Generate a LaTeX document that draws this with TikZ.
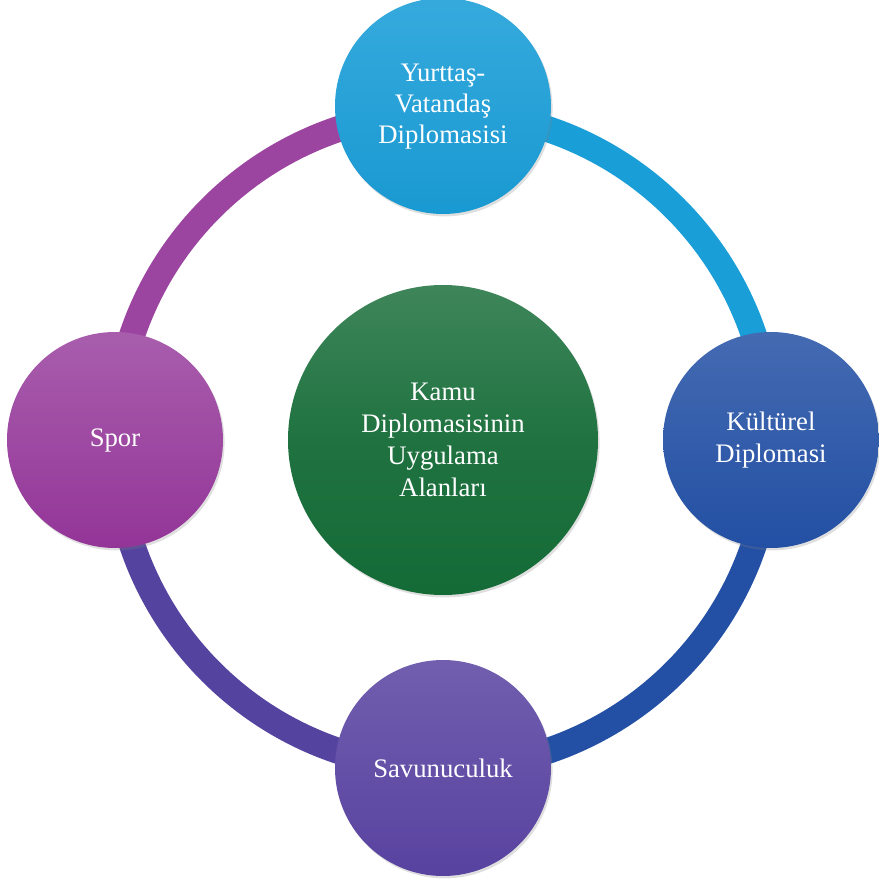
\documentclass[tikz,border=0pt]{standalone}
\usepackage{fontspec}
\setmainfont{Liberation Serif}
\usepackage{tikz}
\usepackage{xcolor}
\usetikzlibrary{
    shadows,
    positioning
}
\definecolor{yurtC}{HTML}{1A9ED8}
\definecolor{kultC}{HTML}{2350A4}
\definecolor{savC}{HTML}{5842A0}
\definecolor{sporC}{HTML}{933598}
\definecolor{kamuC}{HTML}{146B36}

\begin{document}
\begin{tikzpicture}[
        area/.style={circle, minimum size=5.4cm, inner sep=0pt, text=white,
            align=center, font=\fontsize{19}{22.8}\selectfont,
            drop shadow={opacity=0.25, shadow xshift=0.04cm, shadow yshift=-0.06cm}},
        ring/.style={line width=0.65cm}
    ]
                        \useasboundingbox (-11.075, -11.025) rectangle (10.9, 11.0);

                        % ring pieces first, circles go on top
                        \coordinate (ty) at (0, 8.2);
                        \coordinate (tk) at (8.2, 0);
                        \coordinate (ts) at (0, -8.2);
                        \coordinate (tp) at (-8.2, 0);
                        \draw[ring, yurtC] (ty) arc[start angle=90, end angle=0, radius=8.2];
                        \draw[ring, kultC] (tk) arc[start angle=0, end angle=-90, radius=8.2];
                        \draw[ring, savC!95!kultC] (ts) arc[start angle=-90, end angle=-180, radius=8.2];
                        \draw[ring, sporC!92!white] (tp) arc[start angle=180, end angle=90, radius=8.2];

                        \node[area, minimum size=7.75cm, top color=kamuC!82!white, bottom color=kamuC, middle color=kamuC!95!white] (kamu) at (0, 0) {Kamu\\Diplomasisinin\\Uygulama\\Alanları};
                        \node[area, top color=yurtC!88!white, bottom color=yurtC!97!black] (yurt) at (0, 8.35) {\raisebox{-0.15cm}{\begin{tabular}{@{}c@{}}Yurttaş-\\[-1pt]Vatandaş\\[-1pt]Diplomasisi\end{tabular}}};
                        \node[area, top color=kultC!85!white, bottom color=kultC] (kult) at (8.2, 0) {Kültürel\\Diplomasi};
                        \node[area, top color=savC!85!white, bottom color=savC] (sav) at (0, -8.2) {Savunuculuk};
                        \node[area, top color=sporC!80!white, bottom color=sporC] (spor) at (-8.2, 0) {Spor};
                    \end{tikzpicture}
\end{document}
